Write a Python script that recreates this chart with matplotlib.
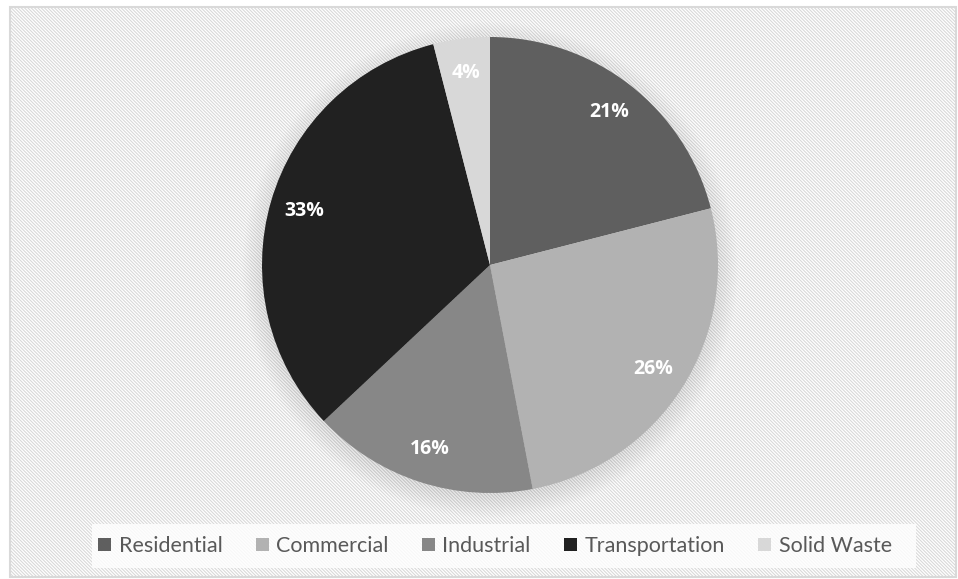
import matplotlib.pyplot as plt
from matplotlib.patches import Rectangle, Circle
import matplotlib as mpl

# datos
categorias = ["Residential", "Commercial", "Industrial", "Transportation", "Solid Waste"]
valores = [21, 26, 16, 33, 4]
colores = ["#5f5f5f", "#b2b2b2", "#878787", "#212121", "#d8d8d8"]

plt.rcParams['font.family'] = ['Lato', 'DejaVu Sans']
mpl.rcParams['hatch.color'] = '#f7f7f7'
mpl.rcParams['hatch.linewidth'] = 0.8

fig = plt.figure(figsize=(9.58, 5.79), dpi=100)
W, H = 958, 579

# fondo con borde y rayado fino
bg = fig.add_axes([0, 0, 1, 1])
bg.set_xlim(0, W)
bg.set_ylim(H, 0)
bg.axis('off')
bg.add_patch(Rectangle((10, 7), W - 12, H - 9, facecolor='white', edgecolor='#d9d9d9', lw=1.5,
                       hatch='\\' * 10))
# sombra suave alrededor del pie
cx, cy, r = 490, 265, 228
for i in range(24):
    bg.add_patch(Circle((cx, cy + 5), r + 20 - i, facecolor='#000000', alpha=0.005, lw=0))
# caja de la leyenda
bg.add_patch(Rectangle((92, 524), 824, 44, facecolor='white', edgecolor='none', alpha=0.8))

# pie
ax = fig.add_axes([(cx - r) / W, 1 - (cy + r) / H, 2 * r / W, 2 * r / H])
wedges, textos, autotextos = ax.pie(
    valores, colors=colores, startangle=90, counterclock=False,
    autopct='%1.0f%%', pctdistance=0.85, radius=1.0,
    wedgeprops=dict(linewidth=0))
for t in autotextos:
    t.set_color('white')
    t.set_fontfamily('Open Sans')
    t.set_fontweight('bold')
    t.set_fontsize(14)
ax.set_xlim(-1, 1)
ax.set_ylim(-1, 1)
ax.set_aspect('equal')

leg = fig.legend(wedges, categorias, loc='center', bbox_to_anchor=(495 / W, 1 - 546 / H),
                 ncol=5, frameon=False, fontsize=15.5, handlelength=0.6, handleheight=0.6,
                 handletextpad=0.35, columnspacing=1.55)
for t in leg.get_texts():
    t.set_color('#595959')

fig.savefig('out.png', dpi=100)
